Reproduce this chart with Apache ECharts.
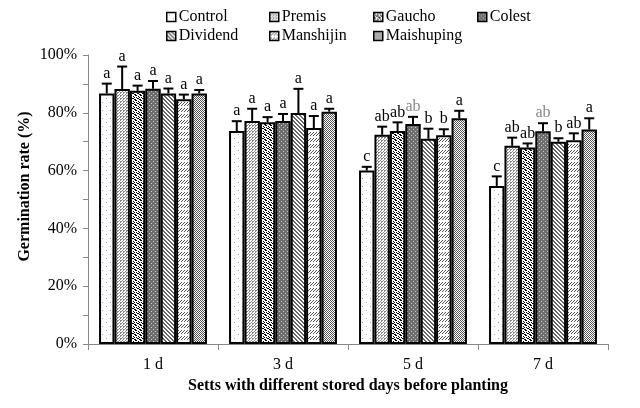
<!DOCTYPE html>
<html><head><meta charset="utf-8">
<script src="https://cdn.jsdelivr.net/npm/echarts@6/dist/echarts.min.js"></script>
<style>html,body{margin:0;padding:0;background:#fff}#c{width:640px;height:408px}</style>
</head><body><div id="c"></div>
<script>
var categories = ['1 d', '3 d', '5 d', '7 d'];
var treatments = ['Control', 'Premis', 'Gaucho', 'Colest', 'Dividend', 'Manshijin', 'Maishuping'];
// mean germination rate (%) per treatment across categories
var control    = [86.7, 73.7, 60.0, 54.7];
var premis     = [88.2, 77.2, 72.4, 68.6];
var gaucho     = [87.6, 76.7, 73.7, 68.0];
var colest     = [88.3, 77.2, 76.1, 73.6];
var dividend   = [86.7, 79.9, 71.0, 70.0];
var manshijin  = [84.7, 74.7, 72.2, 70.5];
var maishuping = [86.7, 80.4, 78.1, 74.2];
// error (SE) per treatment
var controlErr    = [3.4, 3.4, 1.3, 3.3];
var premisErr     = [7.8, 4.2, 2.8, 2.8];
var gauchoErr     = [1.8, 1.8, 3.0, 1.4];
var colestErr     = [2.7, 2.4, 2.5, 2.8];
var dividendErr   = [1.7, 8.4, 3.5, 1.2];
var manshijinErr  = [1.6, 4.2, 2.1, 2.4];
var maishupingErr = [1.2, 1.0, 2.6, 3.9];
// significance letters
var controlSig    = ['a', 'a', 'c', 'c'];
var premisSig     = ['a', 'a', 'ab', 'ab'];
var gauchoSig     = ['a', 'a', 'ab', 'ab'];
var colestSig     = ['a', 'a', 'ab', 'ab'];
var dividendSig   = ['a', 'a', 'b', 'b'];
var manshijinSig  = ['a', 'a', 'b', 'ab'];
var maishupingSig = ['a', 'a', 'a', 'a'];
var yTicks = [0, 20, 40, 60, 80, 100];

var values = [control, premis, gaucho, colest, dividend, manshijin, maishuping];
var errs = [controlErr, premisErr, gauchoErr, colestErr, dividendErr, manshijinErr, maishupingErr];
var sigs = [controlSig, premisSig, gauchoSig, colestSig, dividendSig, manshijinSig, maishupingSig];

function tile(w, h, bg, draw) {
  var c = document.createElement('canvas'); c.width = w; c.height = h;
  var g = c.getContext('2d'); g.fillStyle = bg; g.fillRect(0, 0, w, h);
  draw(g); return c;
}
function px(g, col, pts) { g.fillStyle = col; for (var i = 0; i < pts.length; i++) g.fillRect(pts[i][0], pts[i][1], 1, 1); }
var patterns = [
  tile(8, 8, '#ffffff', function (g) { px(g, '#8fa0d8', [[2, 2], [6, 6]]); }),
  tile(3, 3, '#ffffff', function (g) { px(g, '#8a8a8a', [[0, 0], [2, 1], [1, 2], [0, 2]]); }),
  tile(5, 5, '#ffffff', function (g) { px(g, '#000000', [[0, 0], [1, 0], [3, 1], [1, 2], [4, 2], [2, 3], [3, 3], [0, 4], [4, 4]]); }),
  tile(4, 4, '#6e6e6e', function (g) { px(g, '#c8c8c8', [[1, 1], [3, 3]]); }),
  tile(4, 4, '#ffffff', function (g) { px(g, '#6a6a6a', [[0, 0], [1, 1], [2, 2], [3, 3], [1, 0], [2, 1], [3, 2], [0, 3]]); }),
  tile(6, 6, '#ffffff', function (g) { px(g, '#555555', [[4, 0], [3, 1], [2, 2], [1, 3], [1, 0], [0, 1], [5, 2], [4, 3]]); }),
  tile(6, 4, '#ffffff', function (g) { px(g, '#555555', [[0, 0], [1, 1], [2, 2], [3, 1], [4, 0], [5, 1], [0, 2], [1, 3], [3, 3], [4, 2], [5, 3], [2, 0]]); })
];

var GAP = 0.17;
var series = [];
for (var i = 0; i < treatments.length; i++) {
  series.push({
    name: treatments[i], type: 'bar', barGap: 0, barCategoryGap: '17%',
    data: values[i],
    itemStyle: { color: { image: patterns[i], repeat: 'repeat' }, borderColor: '#000', borderWidth: 2 },
    emphasis: { disabled: true }
  });
}
var errData = [], errLetters = [];
for (var c = 0; c < categories.length; c++) {
  for (var s = 0; s < treatments.length; s++) {
    errData.push([c, s, values[s][c], errs[s][c]]);
    errLetters.push(sigs[s][c]);
  }
}
series.push({
  type: 'custom', z: 10, silent: true,
  data: errData,
  renderItem: function (params, api) {
    var cat = api.value(0), si = api.value(1), v = api.value(2), e = api.value(3);
    var band = api.size([1, 0])[0];
    var bw = band * (1 - GAP) / treatments.length;
    var base = api.coord([cat, v]);
    var top = api.coord([cat, v + e]);
    var x = base[0] - band * (1 - GAP) / 2 + bw * (si + 0.5);
    var letter = errLetters[params.dataIndex];
    var col = (letter === 'ab' && si === 3) ? '#888888' : '#000000';
    return { type: 'group', children: [
      { type: 'line', shape: { x1: x, y1: base[1], x2: x, y2: top[1] }, style: { stroke: '#000', lineWidth: 2 } },
      { type: 'line', shape: { x1: x - 5, y1: top[1], x2: x + 5, y2: top[1] }, style: { stroke: '#000', lineWidth: 2 } },
      { type: 'text', style: { text: letter, x: x, y: top[1] - 2, align: 'center', verticalAlign: 'bottom', font: '16px "Liberation Serif", serif', fill: col } }
    ] };
  }
});

var legendPos = [[166, 9], [269, 9], [373, 9], [477, 9], [166, 28], [269, 28], [373, 28]];
var legends = treatments.map(function (t, i) {
  return { data: [t], left: legendPos[i][0], top: legendPos[i][1], itemWidth: 9, itemHeight: 9, itemGap: 0,
    padding: 0, selectedMode: false, icon: 'rect',
    itemStyle: { borderColor: '#000', borderWidth: 1.5 },
    textStyle: { fontFamily: '"Liberation Serif", serif', fontSize: 16, color: '#000', padding: [0, 0, 0, -2] } };
});

var chart = echarts.init(document.getElementById('c'), null, { renderer: 'canvas' });
chart.setOption({
  animation: false,
  backgroundColor: '#fff',
  legend: legends,
  grid: { left: 88, right: 32, top: 55, bottom: 64, containLabel: false },
  xAxis: {
    type: 'category', data: categories,
    name: 'Setts with different stored days before planting', nameLocation: 'middle', nameGap: 34,
    nameMoveOverlap: false,
    nameTextStyle: { fontFamily: '"Liberation Serif", serif', fontSize: 16, fontWeight: 'bold', color: '#000' },
    axisLine: { lineStyle: { color: '#888', width: 1 } },
    axisTick: { show: true, length: 6, lineStyle: { color: '#888' } },
    axisLabel: { fontFamily: '"Liberation Serif", serif', fontSize: 16, color: '#000', margin: 13 }
  },
  yAxis: {
    type: 'value', min: 0, max: 100, interval: 10,
    name: 'Germination rate (%)', nameLocation: 'middle', nameGap: 55, nameRotate: 90,
    nameMoveOverlap: false,
    nameTextStyle: { fontFamily: '"Liberation Serif", serif', fontSize: 16, fontWeight: 'bold', color: '#000', padding: [0, 0, 0, 26] },
    axisLine: { show: true, lineStyle: { color: '#888', width: 1 } },
    axisTick: { show: true, length: 5, lineStyle: { color: '#888' } },
    splitLine: { show: false },
    axisLabel: {
      fontFamily: '"Liberation Serif", serif', fontSize: 16, color: '#000', margin: 11,
      formatter: function (v) { return yTicks.indexOf(v) >= 0 ? v + '%' : ''; }
    }
  },
  series: series
});
</script></body></html>
